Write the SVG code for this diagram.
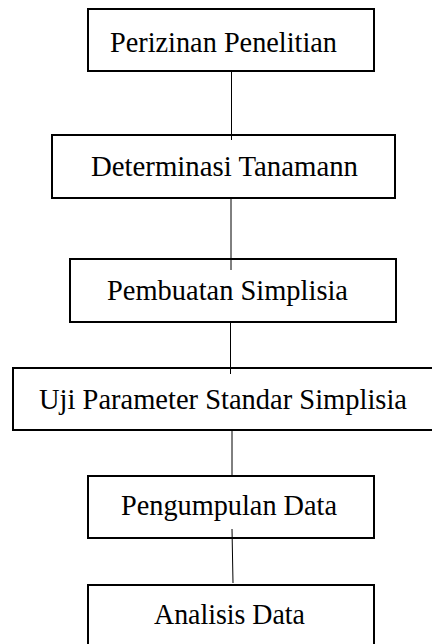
<svg xmlns="http://www.w3.org/2000/svg" width="432" height="644" viewBox="0 0 432 644">
<style>
.box{fill:#fff;stroke:#000;stroke-width:2}
.lbl{font-family:"Liberation Serif","Times New Roman",serif;font-size:29.5px;fill:#000}
.conn line{stroke:#000;stroke-width:1}
</style>
<rect width="432" height="644" fill="#fff"/>
<g id="n1"><rect class="box" x="88" y="9" width="286" height="62"/><text class="lbl" x="110" y="52" textLength="227" lengthAdjust="spacingAndGlyphs">Perizinan Penelitian</text></g>
<g id="n2"><rect class="box" x="52" y="135" width="343" height="63"/><text class="lbl" x="91" y="176" textLength="267" lengthAdjust="spacingAndGlyphs">Determinasi Tanamann</text></g>
<g id="n3"><rect class="box" x="70" y="259" width="326" height="63"/><text class="lbl" x="107" y="300" textLength="241" lengthAdjust="spacingAndGlyphs">Pembuatan Simplisia</text></g>
<g id="n4"><rect class="box" x="13" y="368" width="427" height="62"/><text class="lbl" x="39" y="409" textLength="368" lengthAdjust="spacingAndGlyphs">Uji Parameter Standar Simplisia</text></g>
<g id="n5"><rect class="box" x="88" y="476" width="286" height="62"/><text class="lbl" x="121" y="515" textLength="216" lengthAdjust="spacingAndGlyphs">Pengumpulan Data</text></g>
<g id="n6"><rect class="box" x="88" y="585" width="286" height="66"/><text class="lbl" x="154" y="624" textLength="151" lengthAdjust="spacingAndGlyphs">Analisis Data</text></g>
<g id="connectors" class="conn">
<line x1="231.5" y1="71" x2="231.5" y2="140"/>
<line x1="231" y1="198" x2="231" y2="270"/>
<line x1="230.5" y1="322" x2="230.5" y2="374"/>
<line x1="232" y1="430" x2="232" y2="475"/>
<line x1="232" y1="529" x2="233" y2="583"/>
</g>
</svg>
